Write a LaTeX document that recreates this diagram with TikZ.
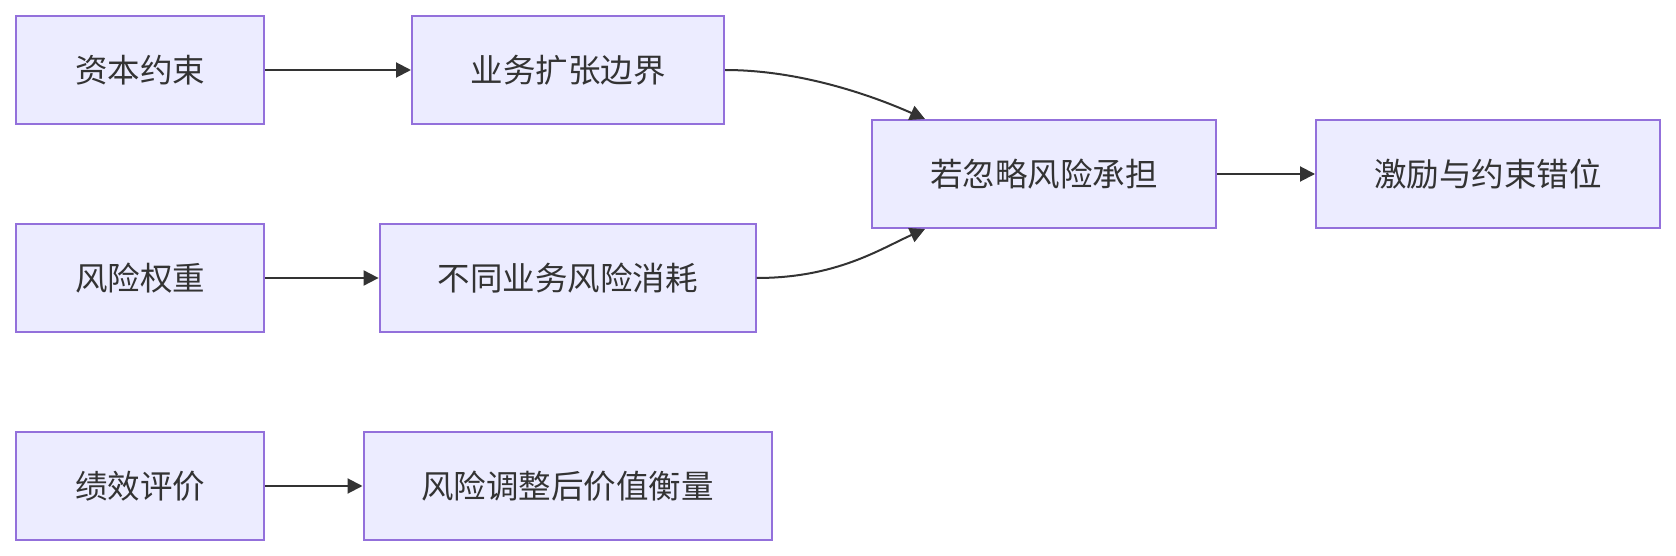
\documentclass[tikz,border=0pt]{standalone}
\usepackage{fontspec}
\newfontfamily\cjk{Noto Sans CJK SC}
\usetikzlibrary{arrows.meta}
\definecolor{boxfill}{HTML}{ECECFF}
\definecolor{boxline}{HTML}{9370DB}
\definecolor{ink}{HTML}{333333}
\tikzset{
  flowbox/.style={draw=boxline, fill=boxfill, line width=2pt, inner sep=0pt,
    minimum height=108pt, text=ink, font=\cjk\fontsize{32.5}{32.5}\selectfont},
  flowarrow/.style={draw=ink, line width=2pt, -{Triangle[length=15pt,width=15pt]}}
}
\begin{document}
\begin{tikzpicture}[x=1pt,y=-1pt]
\useasboundingbox (0,0) rectangle (1676,556);
\node[flowbox, minimum width=248pt] (A) at (140,70) {资本约束};
\node[flowbox, minimum width=312pt] (B) at (568,70) {业务扩张边界};
\node[flowbox, minimum width=344pt] (C) at (1044,174) {若忽略风险承担};
\node[flowbox, minimum width=344pt] (D) at (1488,174) {激励与约束错位};
\node[flowbox, minimum width=248pt] (E) at (140,278) {风险权重};
\node[flowbox, minimum width=376pt] (F) at (567.6,278) {不同业务风险消耗};
\node[flowbox, minimum width=248pt] (G) at (140,486) {绩效评价};
\node[flowbox, minimum width=408pt] (H) at (567.5,486) {风险调整后价值衡量};
\coordinate (Ctop) at ([xshift=54pt]C.north west);
\coordinate (Cbot) at ([xshift=54pt]C.south west);
\draw[flowarrow] (A.east) -- (B.west);
\draw[flowarrow] (E.east) -- (F.west);
\draw[flowarrow] (G.east) -- (H.west);
\draw[flowarrow] (C.east) -- (D.west);
\draw[flowarrow] (B.east) .. controls +(80,0) and +(-45,-20) .. (Ctop);
\draw[flowarrow] (F.east) .. controls +(80,0) and +(-45,20) .. (Cbot);
\end{tikzpicture}
\end{document}
